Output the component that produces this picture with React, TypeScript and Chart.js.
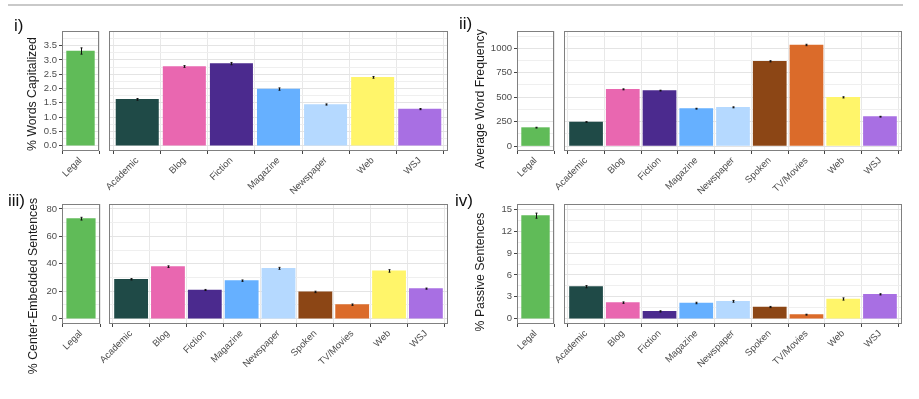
import React, { useEffect, useRef } from 'react';
import { Chart, registerables } from 'chart.js';
Chart.register(...registerables);

// ---------------- data ----------------
const legalLabels = ['Legal'];
const genresCap = ['Academic', 'Blog', 'Fiction', 'Magazine', 'Newspaper', 'Web', 'WSJ'];
const genresAll = ['Academic', 'Blog', 'Fiction', 'Magazine', 'Newspaper', 'Spoken', 'TV/Movies', 'Web', 'WSJ'];

// i) % Words Capitalized
const capLegal = [3.31];
const capLegalErr = [0.11];
const capGenre = [1.62, 2.77, 2.87, 1.98, 1.44, 2.39, 1.28];
const capGenreErr = [0.03, 0.03, 0.04, 0.04, 0.02, 0.03, 0.02];
const capTicks = [0, 0.5, 1, 1.5, 2, 2.5, 3, 3.5];

// ii) Average Word Frequency
const freqLegal = [188];
const freqLegalErr = [4];
const freqGenre = [246, 580, 567, 382, 396, 867, 1034, 498, 300];
const freqGenreErr = [3, 5, 4, 4, 5, 6, 7, 6, 4];
const freqTicks = [0, 250, 500, 750, 1000];

// iii) % Center-Embedded Sentences
const ceLegal = [72.9];
const ceLegalErr = [1.0];
const ceGenre = [28.7, 37.9, 20.9, 27.7, 36.7, 19.5, 10.2, 34.8, 21.9];
const ceGenreErr = [0.5, 0.6, 0.4, 0.5, 0.7, 0.5, 0.5, 0.9, 0.4];
const ceTicks = [0, 20, 40, 60, 80];

// iv) % Passive Sentences
const passLegal = [14.13];
const passLegalErr = [0.35];
const passGenre = [4.39, 2.2, 1.0, 2.15, 2.38, 1.6, 0.55, 2.7, 3.34];
const passGenreErr = [0.15, 0.1, 0.08, 0.1, 0.12, 0.08, 0.06, 0.15, 0.08];
const passTicks = [0, 3, 6, 9, 12, 15];

const COLORS: Record<string, string> = {
  Legal: '#60bb58',
  Academic: '#1f4a47',
  Blog: '#e967b0',
  Fiction: '#4b2a8e',
  Magazine: '#66b0ff',
  Newspaper: '#b5d9ff',
  Spoken: '#8c4615',
  'TV/Movies': '#db6b2a',
  Web: '#fff56a',
  WSJ: '#a86fe3',
};

const FONT = '"Liberation Sans", Arial, Helvetica, sans-serif';

const errorBarsPlugin = (vals: number[], errs: number[]) => ({
  id: 'errbars',
  afterDatasetsDraw(chart: any) {
    const { ctx } = chart;
    const x = chart.scales.x;
    const y = chart.scales.y;
    const hw = 1;
    ctx.save();
    ctx.strokeStyle = '#111';
    ctx.lineWidth = 1;
    vals.forEach((v, i) => {
      const px = Math.round(x.getPixelForValue(i)) + 0.5;
      const lo = y.getPixelForValue(v - errs[i]);
      const hi = y.getPixelForValue(v + errs[i]);
      ctx.beginPath();
      ctx.moveTo(px, lo);
      ctx.lineTo(px, hi);
      ctx.moveTo(px - hw, lo);
      ctx.lineTo(px + hw, lo);
      ctx.moveTo(px - hw, hi);
      ctx.lineTo(px + hw, hi);
      ctx.stroke();
    });
    ctx.restore();
  },
});

const borderPlugin = {
  id: 'panelBorder',
  afterDraw(chart: any) {
    const { ctx, chartArea: a } = chart;
    ctx.save();
    ctx.strokeStyle = '#808080';
    ctx.lineWidth = 1;
    ctx.strokeRect(Math.round(a.left) + 0.5, Math.round(a.top) + 0.5, Math.round(a.right - a.left) - 1, Math.round(a.bottom - a.top) - 1);
    ctx.restore();
  },
};

type PanelProps = {
  labels: string[];
  values: number[];
  errs: number[];
  box: [number, number, number, number];
  yMin: number;
  yMax: number;
  ticks: number[];
  decimals: number;
  showY: boolean;
};

function BarPanel({ labels, values, errs, box, yMin, yMax, ticks, decimals, showY }: PanelProps) {
  const ref = useRef<HTMLCanvasElement>(null);
  const [bx, by, bw, bh] = box;
  const WY = showY ? 40 : 48;
  const HX = 60;
  const PT = 10;
  const PR = 6;
  const cw = WY + bw + PR;
  const ch = PT + bh + HX;

  useEffect(() => {
    const n = labels.length;
    const unit = bw / (n + 0.2);
    const step = ticks[1] - ticks[0];
    const minors: number[] = [];
    for (let i = 0; i < ticks.length - 1; i++) minors.push((ticks[i] + ticks[i + 1]) / 2);
    const beyond = ticks[ticks.length - 1] + step / 2;
    if (beyond < yMax) minors.push(beyond);
    const allY = [...ticks, ...minors].sort((a, b) => a - b);
    const isMajor = (v: number) => ticks.some((t) => Math.abs(t - v) < 1e-9);

    const chart = new Chart(ref.current as HTMLCanvasElement, {
      type: 'bar',
      data: {
        datasets: [
          {
            data: values.map((v, i) => ({ x: i, y: v })),
            backgroundColor: labels.map((l) => COLORS[l]),
            barThickness: unit * 0.9,
            borderWidth: 0,
          } as any,
        ],
      },
      options: {
        responsive: false,
        animation: false,
        devicePixelRatio: 1,
        layout: { padding: { top: PT, right: PR, left: 0, bottom: 0 } },
        plugins: { legend: { display: false }, tooltip: { enabled: false } },
        scales: {
          x: {
            type: 'linear',
            min: -0.6,
            max: n - 0.4,
            bounds: 'data',
            offset: false,
            afterBuildTicks: (s: any) => {
              s.ticks = labels.map((_, i) => ({ value: i }));
            },
            afterFit: (s: any) => {
              s.height = HX;
            },
            ticks: {
              autoSkip: false,
              minRotation: 45,
              maxRotation: 45,
              padding: 1,
              color: '#4d4d4d',
              font: { family: FONT, size: 9.5 },
              callback: (v: any) => labels[Math.round(Number(v))],
            },
            grid: {
              color: '#e8e8e8',
              lineWidth: 1,
              drawTicks: true,
              tickLength: 3,
              tickColor: '#444',
              tickWidth: 1,
            },
            border: { display: false },
          } as any,
          y: {
            type: 'linear',
            min: yMin,
            max: yMax,
            bounds: 'data',
            afterBuildTicks: (s: any) => {
              s.ticks = allY.map((v) => ({ value: v }));
            },
            afterFit: (s: any) => {
              s.width = WY;
            },
            ticks: {
              display: showY,
              autoSkip: false,
              padding: 2,
              color: '#4d4d4d',
              font: { family: FONT, size: 9.5 },
              callback: (v: any) => (isMajor(Number(v)) ? Number(v).toFixed(decimals) : ''),
            },
            grid: {
              color: (c: any) => (c.tick && isMajor(c.tick.value) ? '#e4e4e4' : '#efefef'),
              lineWidth: 1,
              drawTicks: showY,
              tickLength: 3,
              tickColor: (c: any) => (c.tick && isMajor(c.tick.value) ? '#444' : 'rgba(0,0,0,0)'),
            },
            border: { display: false },
          } as any,
        },
      },
      plugins: [errorBarsPlugin(values, errs), borderPlugin],
    });
    return () => chart.destroy();
  }, []);

  return (
    <canvas
      ref={ref}
      width={cw}
      height={ch}
      style={{ position: 'absolute', left: bx - WY, top: by - PT, width: cw, height: ch }}
    />
  );
}

const titleStyle = (cx: number, cy: number): React.CSSProperties => ({
  position: 'absolute',
  left: cx,
  top: cy,
  transform: 'translate(-50%, -50%) rotate(-90deg)',
  whiteSpace: 'nowrap',
  fontFamily: FONT,
  fontSize: 12.3,
  color: '#1a1a1a',
  lineHeight: 1,
});

const tagStyle = (x: number, y: number): React.CSSProperties => ({
  position: 'absolute',
  left: x,
  top: y,
  fontFamily: FONT,
  fontSize: 17,
  color: '#111',
  lineHeight: 1,
  whiteSpace: 'nowrap',
});

export default function App() {
  return (
    <div
      style={{
        position: 'absolute',
        left: 0,
        top: 0,
        width: 919,
        height: 399,
        background: '#fff',
        overflow: 'hidden',
      }}
    >
      <div style={{ position: 'absolute', left: 8, top: 4, width: 895, height: 2, background: '#c9c9c9' }} />

      {/* i) */}
      <BarPanel labels={legalLabels} values={capLegal} errs={capLegalErr} box={[62, 31, 37, 120]} yMin={-0.186} yMax={4.01} ticks={capTicks} decimals={1} showY={true} />
      <BarPanel labels={genresCap} values={capGenre} errs={capGenreErr} box={[109, 31, 339, 120]} yMin={-0.186} yMax={4.01} ticks={capTicks} decimals={1} showY={false} />

      {/* ii) */}
      <BarPanel labels={legalLabels} values={freqLegal} errs={freqLegalErr} box={[517, 31, 37, 120]} yMin={-51} yMax={1177} ticks={freqTicks} decimals={0} showY={true} />
      <BarPanel labels={genresAll} values={freqGenre} errs={freqGenreErr} box={[564, 31, 338, 120]} yMin={-51} yMax={1177} ticks={freqTicks} decimals={0} showY={false} />

      {/* iii) */}
      <BarPanel labels={legalLabels} values={ceLegal} errs={ceLegalErr} box={[62, 204, 38, 120]} yMin={-3.9} yMax={83.6} ticks={ceTicks} decimals={0} showY={true} />
      <BarPanel labels={genresAll} values={ceGenre} errs={ceGenreErr} box={[109, 204, 339, 120]} yMin={-3.9} yMax={83.6} ticks={ceTicks} decimals={0} showY={false} />

      {/* iv) */}
      <BarPanel labels={legalLabels} values={passLegal} errs={passLegalErr} box={[517, 204, 37, 120]} yMin={-0.73} yMax={15.73} ticks={passTicks} decimals={0} showY={true} />
      <BarPanel labels={genresAll} values={passGenre} errs={passGenreErr} box={[564, 204, 338, 120]} yMin={-0.73} yMax={15.73} ticks={passTicks} decimals={0} showY={false} />

      <div style={titleStyle(32, 94)}>% Words Capitalized</div>
      <div style={titleStyle(480, 99)}>Average Word Frequency</div>
      <div style={titleStyle(33, 286)}>% Center-Embedded Sentences</div>
      <div style={titleStyle(480, 272)}>% Passive Sentences</div>

      <div style={tagStyle(14, 17)}>i)</div>
      <div style={tagStyle(459, 15)}>ii)</div>
      <div style={tagStyle(8, 192)}>iii)</div>
      <div style={tagStyle(455, 192)}>iv)</div>
    </div>
  );
}
